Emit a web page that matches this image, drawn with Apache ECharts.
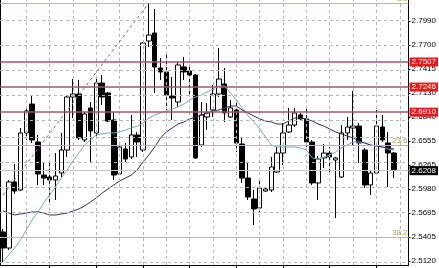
<!DOCTYPE html>
<html><head><meta charset="utf-8">
<script src="https://cdn.jsdelivr.net/npm/echarts@6/dist/echarts.min.js"></script>
<style>html,body{margin:0;padding:0;background:#fff;}#c{width:439px;height:268px;}</style>
</head><body><div id="c"></div>
<script>
const categories = [];
for (let i = 0; i < 70; i++) categories.push(String(i));

const opens  = [2.5467,2.5275,2.6065,2.5969,2.6651,2.6997,2.6543,2.6148,2.6124,2.6089,2.6172,2.6447,2.7081,2.7117,2.6567,2.6950,2.6651,2.7248,2.7129,2.6806,2.6160,2.6459,2.6364,2.6627,2.6447,2.7751,2.7846,2.7428,2.7380,2.7093,2.7021,2.7440,2.7392,2.7344,2.6507,2.6842,2.6926,2.7117,2.7237,2.6842,2.6926,2.6519,2.6112,2.5861,2.5754,2.5957,2.5969,2.6184,2.6411,2.6663,2.6746,2.6866,2.6818,2.6543,2.6053,2.6352,2.6411,2.6328,2.6124,2.6651,2.6710,2.6734,2.6447,2.6029,2.6172,2.6722,2.6531,2.6411];
const closes = [2.5275,2.6065,2.5957,2.6651,2.6914,2.6567,2.6160,2.6112,2.6089,2.6136,2.6447,2.7081,2.7117,2.6591,2.6878,2.6675,2.7248,2.7081,2.6794,2.6148,2.6483,2.6340,2.6627,2.6543,2.7727,2.7822,2.7440,2.7380,2.7105,2.7069,2.7464,2.7380,2.7344,2.6352,2.6866,2.6890,2.7117,2.7296,2.6890,2.6950,2.6531,2.6112,2.5885,2.5742,2.5993,2.5981,2.6244,2.6411,2.6651,2.6746,2.6890,2.6818,2.6543,2.6053,2.6340,2.6411,2.6364,2.6352,2.6651,2.6722,2.6734,2.6531,2.6029,2.6172,2.6734,2.6567,2.6411,2.6208];
const lows   = [2.5096,2.5251,2.5921,2.5957,2.6567,2.6531,2.6029,2.6029,2.5813,2.5849,2.6124,2.6364,2.6830,2.6567,2.6543,2.6304,2.6603,2.6985,2.6782,2.6089,2.6148,2.6304,2.6340,2.6364,2.6423,2.7679,2.7129,2.7284,2.6926,2.6806,2.6962,2.7284,2.7105,2.6340,2.6483,2.6686,2.6842,2.7081,2.6782,2.6830,2.6423,2.6053,2.5849,2.5550,2.5694,2.5945,2.5945,2.6172,2.6268,2.6651,2.6722,2.6806,2.6483,2.6029,2.5849,2.6232,2.6148,2.5634,2.6112,2.6567,2.6495,2.6292,2.5993,2.5909,2.6148,2.6543,2.6005,2.6112];
const highs  = [2.5503,2.6089,2.6280,2.6710,2.6950,2.7105,2.6627,2.6292,2.6304,2.6411,2.6651,2.7105,2.7296,2.7284,2.6902,2.7021,2.7308,2.7344,2.7141,2.6902,2.6543,2.6531,2.6866,2.6663,2.7739,2.8193,2.8133,2.7547,2.7607,2.7320,2.7500,2.7559,2.7464,2.7356,2.7021,2.7009,2.7225,2.7667,2.7428,2.7045,2.7045,2.6603,2.6304,2.5969,2.6112,2.6005,2.6364,2.6483,2.6770,2.6950,2.6950,2.6890,2.6962,2.6567,2.6376,2.6519,2.6483,2.6364,2.6746,2.6842,2.7153,2.6770,2.6471,2.6208,2.6926,2.6866,2.6663,2.6423];

const fastMA = [2.5108,2.5192,2.5275,2.5371,2.5491,2.5610,2.5706,2.5813,2.5909,2.6005,2.6112,2.6208,2.6316,2.6411,2.6507,2.6567,2.6627,2.6639,2.6651,2.6651,2.6663,2.6686,2.6710,2.6734,2.6770,2.6830,2.6866,2.6890,2.6914,2.6938,2.6962,2.6997,2.7045,2.7081,2.7105,2.7141,2.7177,2.7213,2.7213,2.7129,2.7045,2.6950,2.6854,2.6782,2.6698,2.6603,2.6507,2.6483,2.6483,2.6483,2.6483,2.6471,2.6447,2.6352,2.6340,2.6364,2.6387,2.6423,2.6471,2.6507,2.6543,2.6543,2.6531,2.6507,2.6495,2.6483,2.6459,2.6447];
const slowMA = [2.5718,2.5694,2.5670,2.5682,2.5694,2.5706,2.5706,2.5694,2.5670,2.5670,2.5682,2.5694,2.5718,2.5742,2.5778,2.5826,2.5873,2.5933,2.5981,2.6029,2.6077,2.6112,2.6148,2.6208,2.6304,2.6387,2.6483,2.6591,2.6663,2.6710,2.6758,2.6782,2.6818,2.6842,2.6866,2.6890,2.6914,2.6926,2.6950,2.6973,2.6973,2.6926,2.6890,2.6854,2.6818,2.6794,2.6782,2.6758,2.6758,2.6794,2.6830,2.6830,2.6818,2.6794,2.6758,2.6734,2.6698,2.6663,2.6639,2.6615,2.6591,2.6555,2.6531,2.6507,2.6495,2.6483,2.6471,2.6459];

const yTicks = [2.7990,2.7700,2.7415,2.7130,2.6840,2.6555,2.6265,2.5980,2.5695,2.5405,2.5120];
const redLevels = [2.7507,2.7246,2.6910];
const fibLevels = [2.8205,2.6471,2.5395];
const fibNames = ['0.0','23.6','38.2'];
const lastPrice = 2.6208;
const trendStart = ['0', 2.5909];
const trendEnd = ['25', 2.8205];

const yMin = 2.5072, yMax = 2.8241;
const FONT = "'Liberation Sans Narrow','Liberation Sans',Arial,sans-serif";

const candleData = opens.map((o, i) => [o, closes[i], lows[i], highs[i]]);

const gridLines = [];
yTicks.forEach(v => gridLines.push({ yAxis: v }));
for (let i = 4; i < 70; i += 4) gridLines.push({ xAxis: categories[i] });

const levelLines = [];
fibLevels.forEach((v, k) => levelLines.push({
  yAxis: v,
  lineStyle: { color: '#c4bc6e', width: 1, type: 'solid' },
  label: { show: true, position: 'insideEndTop', formatter: fibNames[k], color: '#aaa25a',
           fontSize: 8, fontFamily: FONT, distance: 1 }
}));
redLevels.forEach(v => levelLines.push({
  yAxis: v,
  lineStyle: { color: '#a4566a', width: 1.5, type: 'solid' },
  label: { show: true, position: 'end', formatter: v.toFixed(4), color: '#fff',
           backgroundColor: '#e41c1c', padding: [1, 2, 0, 2], fontSize: 8, fontFamily: FONT,
           distance: 1, lineHeight: 8 }
}));
levelLines.push({
  yAxis: lastPrice,
  lineStyle: { color: '#c4c4c4', width: 1, type: 'solid' },
  label: { show: true, position: 'end', formatter: lastPrice.toFixed(4), color: '#fff',
           backgroundColor: '#000', padding: [1, 2, 0, 2], fontSize: 8, fontFamily: FONT,
           distance: 1, lineHeight: 8 }
});
levelLines.push([
  { coord: trendStart, lineStyle: { color: '#6e6e6e', width: 1, type: [3, 3] }, label: { show: false } },
  { coord: trendEnd }
]);

const chart = echarts.init(document.getElementById('c'), null, { renderer: 'canvas' });
chart.setOption({
  animation: false,
  backgroundColor: '#ffffff',
  grid: { left: 0, right: 29, top: 0, bottom: 3 },
  xAxis: {
    type: 'category', data: categories, boundaryGap: true,
    axisLine: { show: true, lineStyle: { color: '#000', width: 1 } },
    axisTick: { show: true, alignWithLabel: true, length: 3, interval: (i) => i % 8 === 0 && i > 0,
                lineStyle: { color: '#000' } },
    axisLabel: { show: false },
    splitLine: { show: false }
  },
  yAxis: [{
    type: 'value', position: 'right', min: yMin, max: yMax,
    axisLine: { show: true, lineStyle: { color: '#000', width: 1 } },
    axisTick: { show: true, length: 2, customValues: yTicks, lineStyle: { color: '#000' } },
    axisLabel: { show: true, customValues: yTicks, formatter: (v) => v.toFixed(4), color: '#000',
                 fontSize: 8, fontFamily: FONT, margin: 3 },
    splitLine: { show: false }
  }, {
    type: 'value', position: 'left', min: yMin, max: yMax,
    axisLine: { show: true, lineStyle: { color: '#000', width: 1 } },
    axisTick: { show: false }, axisLabel: { show: false }, splitLine: { show: false }
  }],
  series: [
    {
      type: 'line', data: [], z: 1, silent: true,
      markLine: { symbol: 'none', silent: true, animation: false,
        lineStyle: { color: '#b4b4b4', width: 1, type: [3, 3] },
        label: { show: false }, data: gridLines }
    },
    {
      type: 'line', data: [], z: 2, silent: true,
      markLine: { symbol: 'none', silent: true, animation: false, data: levelLines }
    },
    {
      type: 'candlestick', data: candleData, z: 3, barWidth: 5,
      itemStyle: { color: '#ffffff', color0: '#000000', borderColor: '#000000', borderColor0: '#000000', borderWidth: 1 }
    },
    {
      type: 'line', data: fastMA, z: 4, symbol: 'none', smooth: false,
      lineStyle: { color: '#72a9b6', width: 1 }
    },
    {
      type: 'line', data: slowMA, z: 4, symbol: 'none', smooth: false,
      lineStyle: { color: '#2c2f5e', width: 1 }
    }
  ]
});
</script></body></html>
